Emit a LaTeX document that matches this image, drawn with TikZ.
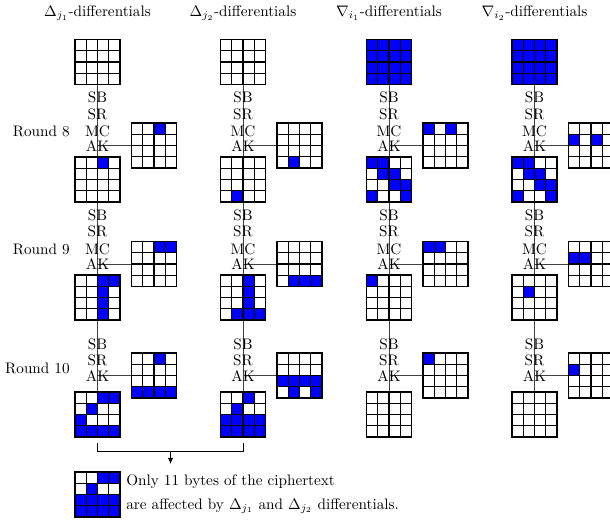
\documentclass[tikz,border=0pt]{standalone}
\usetikzlibrary{arrows.meta}
\definecolor{cellblue}{RGB}{0,0,255}
\pgfdeclarelayer{bg}
\pgfsetlayers{bg,main}
\tikzset{
  gridline/.style={black, line width=0.75pt, line cap=rect},
  conn/.style={black!75, line width=0.6pt},
  gridbox/.style={minimum size=29.565pt, inner sep=0pt, outer sep=0pt},
  lbl/.style={anchor=base, inner sep=0pt},
}
\newcommand\bgrid[4]{%
  \node[gridbox] (#1) at (#2,#3) {};
  \if\relax\detokenize{#4}\relax\else
  \foreach \rr/\cc in {#4} {\fill[cellblue] ({#2-22.5+\cc*11.25},{#3-22.5+\rr*11.25}) rectangle ++(11.25,11.25);}
  \fi
  \foreach \ii in {0,...,4} {
    \draw[gridline] ({#2-22.5+\ii*11.25},{#3-22.5}) -- ++(0,45);
    \draw[gridline] ({#2-22.5},{#3-22.5+\ii*11.25}) -- ++(45,0);
  }
}
\begin{document}
\begin{tikzpicture}[x=0.657pt,y=-0.657pt]
\useasboundingbox (0,0) rectangle (610,521);
% headers
\node[lbl] (h1) at (97.5,16.7) {$\Delta_{j_1}$-differentials};
\node[lbl] (h2) at (243,16.7) {$\Delta_{j_2}$-differentials};
\node[lbl] (h3) at (389,16.7) {$\nabla_{i_1}$-differentials};
\node[lbl] (h4) at (534.5,16.7) {$\nabla_{i_2}$-differentials};
% round labels
\node[anchor=base east, inner sep=0pt] (r8) at (70,136.7) {Round 8};
\node[anchor=base east, inner sep=0pt] (r9) at (70,254.3) {Round 9};
\node[anchor=base east, inner sep=0pt] (r10) at (70,373.3) {Round 10};
% operation labels
\foreach \x/\n in {97.5/1,243/2,389/3,534.5/4} {
  \node[lbl] (sba\n) at (\x,102.3) {SB};
  \node[lbl] (sra\n) at (\x,119.5) {SR};
  \node[lbl] (mca\n) at (\x,136.7) {MC};
  \node[lbl] (aka\n) at (\x,151) {AK};
  \node[lbl] (sbb\n) at (\x,220) {SB};
  \node[lbl] (srb\n) at (\x,236.7) {SR};
  \node[lbl] (mcb\n) at (\x,254.3) {MC};
  \node[lbl] (akb\n) at (\x,269.3) {AK};
  \node[lbl] (sbc\n) at (\x,349.3) {SB};
  \node[lbl] (src\n) at (\x,365) {SR};
  \node[lbl] (akc\n) at (\x,381.5) {AK};
}
% column 1
\bgrid{t1}{97.5}{62}{}
\bgrid{ka1}{154}{145.5}{0/2}
\bgrid{sa1}{97.5}{179.5}{0/2}
\bgrid{kb1}{154}{264}{0/2,0/3}
\bgrid{sb1}{97.5}{297.5}{0/2,0/3,1/2,2/2,3/2}
\bgrid{kc1}{154}{375.5}{0/2,3/0,3/1,3/2,3/3}
\bgrid{sc1}{97.5}{414.5}{0/2,0/3,1/1,2/0,3/0,3/1,3/2,3/3}
% column 2
\bgrid{t2}{243}{62}{}
\bgrid{ka2}{299.5}{145.5}{3/1}
\bgrid{sa2}{243}{179.5}{3/1}
\bgrid{kb2}{299.5}{264}{3/1,3/2,3/3}
\bgrid{sb2}{243}{297.5}{0/2,1/2,2/2,3/1,3/2,3/3}
\bgrid{kc2}{299.5}{375.5}{2/0,2/1,2/2,2/3,3/1,3/3}
\bgrid{sc2}{243}{414.5}{0/2,1/1,2/0,2/1,2/2,2/3,3/0,3/1,3/2,3/3}
% column 3
\bgrid{t3}{389}{62}{0/0,0/1,0/2,0/3,1/0,1/1,1/2,1/3,2/0,2/1,2/2,2/3,3/0,3/1,3/2,3/3}
\bgrid{ka3}{445.5}{145.5}{0/0,0/2}
\bgrid{sa3}{389}{179.5}{0/0,0/1,1/1,1/2,2/2,2/3,3/0,3/3}
\bgrid{kb3}{445.5}{264}{0/0,0/1}
\bgrid{sb3}{389}{297.5}{0/0}
\bgrid{kc3}{445.5}{375.5}{0/0}
\bgrid{sc3}{389}{414.5}{}
% column 4
\bgrid{t4}{534.5}{62}{0/0,0/1,0/2,0/3,1/0,1/1,1/2,1/3,2/0,2/1,2/2,2/3,3/0,3/1,3/2,3/3}
\bgrid{ka4}{591}{145.5}{1/0,1/2}
\bgrid{sa4}{534.5}{179.5}{0/0,0/1,1/1,1/2,2/2,2/3,3/0,3/3}
\bgrid{kb4}{591}{264}{1/0,1/1}
\bgrid{sb4}{534.5}{297.5}{1/1}
\bgrid{kc4}{591}{375.5}{1/0}
\bgrid{sc4}{534.5}{414.5}{}
% connectors
\begin{pgfonlayer}{bg}
\foreach \n in {1,2,3,4} {
  \draw[conn] (t\n.center) -- (sc\n.south);
  \draw[conn] (ka\n.west -| t\n.center) -- (ka\n.west);
  \draw[conn] (kb\n.west -| t\n.center) -- (kb\n.west);
  \draw[conn] (kc\n.west -| t\n.center) -- (kc\n.west);
}
\end{pgfonlayer}
% bracket and arrow
\coordinate (bl) at (97.5,443);
\coordinate (br) at (243,443);
\coordinate (am) at (170.5,451);
\coordinate (ae) at (170.5,464);
\draw[black, line width=0.6pt] (bl) -- ++(0,8) -| (br);
\draw[black, line width=0.6pt, -{Latex[length=4pt,width=3.5pt]}] (am) -- (ae);
% result
\bgrid{fin}{97.5}{494.5}{0/2,0/3,1/1,2/0,2/1,2/2,2/3,3/0,3/1,3/2,3/3}
\node[anchor=base west, inner sep=0pt] (ft1) at (126,485.7) {Only 11 bytes of the ciphertext};
\node[anchor=base west, inner sep=0pt] (ft2) at (126,509) {are affected by $\Delta_{j_1}$ and $\Delta_{j_2}$ differentials.};
\end{tikzpicture}
\end{document}
